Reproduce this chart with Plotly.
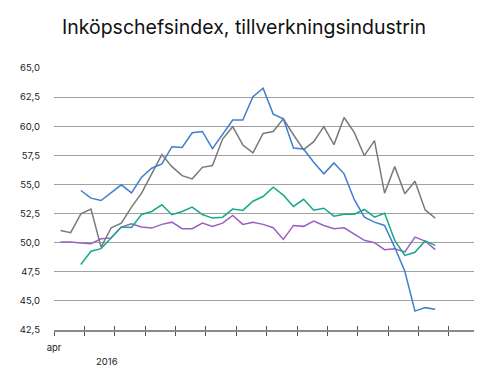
import plotly.graph_objects as go

months = list(range(38))

gray = [51.05, 50.86, 52.48, 52.88, 49.62, 51.28, 51.68, 53.05, 54.25, 55.91,
        57.56, 56.53, 55.76, 55.48, 56.47, 56.62, 58.90, 59.96, 58.39, 57.71,
        59.38, 59.55, 60.64, 59.27, 57.99, 58.67, 59.96, 58.42, 60.75, 59.47,
        57.47, 58.76, 54.25, 56.53, 54.20, 55.27, 52.83, 52.11]

blue = [None, None, 54.48, 53.82, 53.62, 54.28, 54.97, 54.28, 55.62, 56.39,
        56.76, 58.24, 58.18, 59.44, 59.55, 58.07, 59.33, 60.53, 60.53, 62.53,
        63.27, 61.04, 60.64, 58.13, 58.05, 56.90, 55.91, 56.85, 55.91, 53.71,
        52.19, 51.76, 51.48, 49.60, 47.54, 44.12, 44.42, 44.29]

green = [None, None, 48.12, 49.26, 49.49, 50.39, 51.34, 51.31, 52.42, 52.68,
         53.25, 52.40, 52.68, 53.05, 52.42, 52.11, 52.19, 52.88, 52.77, 53.56,
         53.96, 54.76, 54.08, 53.11, 53.72, 52.79, 52.96, 52.28, 52.45, 52.45,
         52.85, 52.19, 52.53, 50.20, 48.91, 49.17, 50.15, 49.77]

purple = [50.05, 50.05, 49.97, 49.91, 50.34, 50.41, 51.34, 51.63, 51.34, 51.25,
          51.57, 51.76, 51.20, 51.20, 51.68, 51.40, 51.68, 52.34, 51.57, 51.76,
          51.57, 51.28, 50.28, 51.48, 51.40, 51.85, 51.48, 51.20, 51.28, 50.77,
          50.20, 50.00, 49.40, 49.47, 49.21, 50.48, 50.14, 49.40]

y_ticks = [42.5, 45.0, 47.5, 50.0, 52.5, 55.0, 57.5, 60.0, 62.5, 65.0]
x_tick_labels = ["apr"]
year_label = "2016"

title_text = "Inköpschefsindex, tillverkningsindustrin"

x0 = -0.65
x_range = [x0, 40.83]
x_tickvals = [x0 + 3 * k for k in range(14)]

fig = go.Figure()
series = [
    (gray, "#7a7a7a"),
    (purple, "#9b5fc0"),
    (green, "#16a98a"),
    (blue, "#3f7fcf"),
]
for vals, col in series:
    fig.add_trace(go.Scatter(x=months, y=vals, mode="lines",
                             line=dict(color=col, width=1.5),
                             connectgaps=False, showlegend=False,
                             hoverinfo="skip"))

fig.add_trace(go.Scatter(x=[x_range[0]], y=[42.5], xaxis="x2", mode="markers",
                         marker=dict(opacity=0), showlegend=False, hoverinfo="skip"))

fig.update_layout(
    width=498, height=386,
    margin=dict(l=43, r=32, t=60, b=64),
    paper_bgcolor="white", plot_bgcolor="white",
    separators=", ",
    font=dict(family="Inter, Roboto, sans-serif", color="#1a1a1a"),
    title=dict(text=title_text, x=0.474, xanchor="center", y=0.95, yanchor="middle",
               font=dict(size=19.5, color="#111111", family="Inter, sans-serif")),
    xaxis=dict(range=x_range, showgrid=False, zeroline=False,
               showline=True, linecolor="#8a8a8a", linewidth=2,
               tickmode="array", tickvals=x_tickvals,
               ticktext=x_tick_labels + [""] * (len(x_tickvals) - 1),
               ticks="outside", ticklen=4, tickwidth=1.3, tickcolor="#555555",
               tickfont=dict(size=9.5, color="#222222"), ticklabelstandoff=4),
    xaxis2=dict(range=x_range, overlaying="x", anchor="y", showgrid=False,
                zeroline=False, showline=False, tickmode="array",
                tickvals=x_tickvals, showticklabels=False, ticks="inside",
                ticklen=4, tickwidth=1.3, tickcolor="#555555", side="bottom"),
    yaxis=dict(range=[42.5, 65], tickmode="array", tickvals=y_ticks,
               tickformat=".1f", showgrid=True, gridcolor="#a0a0a0", gridwidth=1.4,
               zeroline=False, showline=False, ticks="",
               tickfont=dict(size=9.5, color="#222222"), ticklabelstandoff=13),
    annotations=[dict(text=year_label, x=4.6, xref="x", y=-0.122, yref="paper",
                      showarrow=False, xanchor="center", yanchor="middle",
                      font=dict(size=9.5, color="#222222"))],
)

fig.write_html("out.html")
